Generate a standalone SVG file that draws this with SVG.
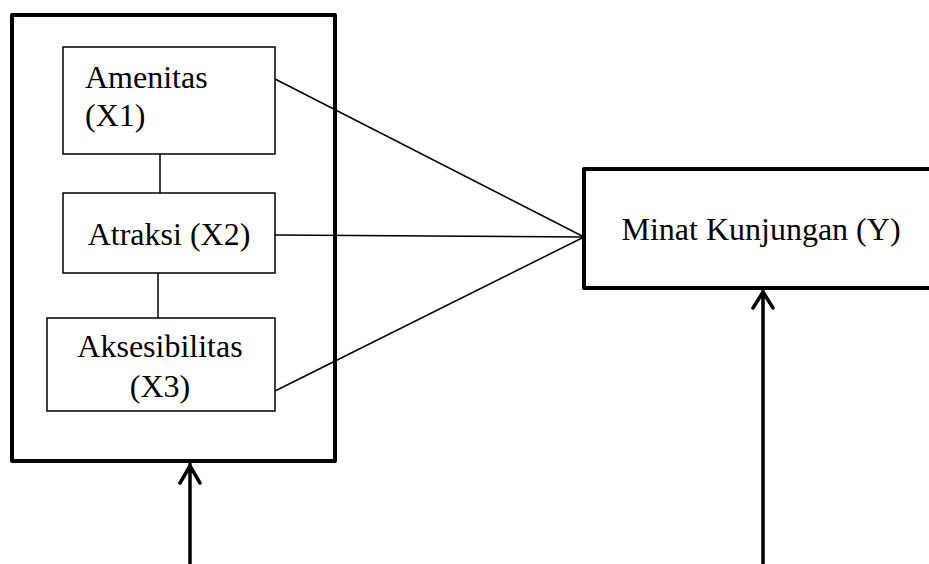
<svg xmlns="http://www.w3.org/2000/svg" width="929" height="564" viewBox="0 0 929 564">
<defs>
<style>
.thick{fill:#fff;stroke:#000;stroke-width:4;stroke-linejoin:round}
.thin{fill:#fff;stroke:#000;stroke-width:1.5}
.ln{stroke:#000;stroke-width:1.5;fill:none}
.arr{stroke:#000;stroke-width:3.5;fill:none;stroke-linecap:round;stroke-linejoin:round}
</style>
</defs>
<g font-family="'Liberation Serif', 'Times New Roman', Times, serif" font-size="32" fill="#000">
<g id="outer"><rect class="thick" x="12" y="15" width="323" height="446"/></g>
<g id="minat"><rect class="thick" x="584" y="169" width="360" height="119"/>
<text x="761" y="240" text-anchor="middle">Minat Kunjungan (Y)</text></g>
<g id="connectors">
<line class="ln" x1="160" y1="154" x2="160" y2="193"/>
<line class="ln" x1="158" y1="273" x2="158" y2="318"/>
<line class="ln" x1="275" y1="79" x2="584" y2="237"/>
<line class="ln" x1="275" y1="235" x2="584" y2="237"/>
<line class="ln" x1="275" y1="391" x2="584" y2="237"/>
<path class="arr" d="M190 564 V464 M180 483 L190 466 L200 483"/>
<path class="arr" d="M763 564 V291 M753 308 L763 292 L773 308"/>
</g>
<g id="amenitas"><rect class="thin" x="63" y="47" width="212" height="107"/>
<text x="85" y="88">Amenitas</text><text x="85" y="126">(X1)</text></g>
<g id="atraksi"><rect class="thin" x="63" y="193" width="212" height="80"/>
<text x="169" y="245" text-anchor="middle">Atraksi (X2)</text></g>
<g id="aksesibilitas"><rect class="thin" x="47" y="318" width="228" height="93"/>
<text x="160" y="357" text-anchor="middle">Aksesibilitas</text><text x="160" y="397" text-anchor="middle">(X3)</text></g>
</g>
</svg>
